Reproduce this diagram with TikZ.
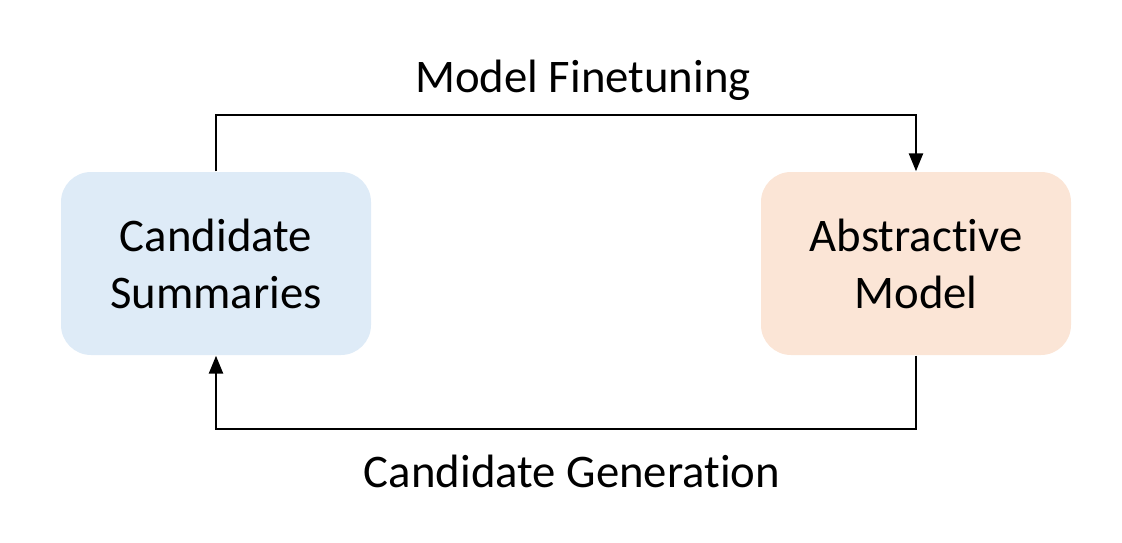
\documentclass[tikz,border=0pt]{standalone}
\usepackage{fontspec}
\setmainfont{Carlito}[Ligatures={NoCommon}]
\usetikzlibrary{arrows.meta}
\definecolor{candblue}{HTML}{DEEBF7}
\definecolor{absorange}{HTML}{FBE5D6}
\tikzset{
  box/.style={rounded corners=0.3cm, minimum width=3.1cm, minimum height=1.83cm,
    align=center, font=\fontsize{13.3}{16.2}\selectfont},
  flow/.style={line width=0.7pt, -{Triangle[length=1.8mm, width=1.4mm]}},
  lbl/.style={anchor=base, font=\fontsize{13.3}{16.2}\selectfont}
}
\begin{document}
\begin{tikzpicture}
  \useasboundingbox (0,0) rectangle (11.22,5.42);

  \node[box, fill=candblue] (cand) at (2.16,2.785) {Candidate\\Summaries};
  \node[box, fill=absorange] (abs) at (9.16,2.785) {Abstractive\\Model};

  \coordinate (top) at (5.83,4.27);
  \coordinate (bot) at (5.83,1.13);

  \draw[flow] (cand.north) |- (top) -| (abs.north);
  \draw[flow] (abs.south) |- (bot) -| (cand.south);

  \node[lbl] (fine) at (5.83,4.50) {Model Finetuning};
  \node[lbl] (gen) at (5.72,0.55) {Candidate Generation};
\end{tikzpicture}
\end{document}
